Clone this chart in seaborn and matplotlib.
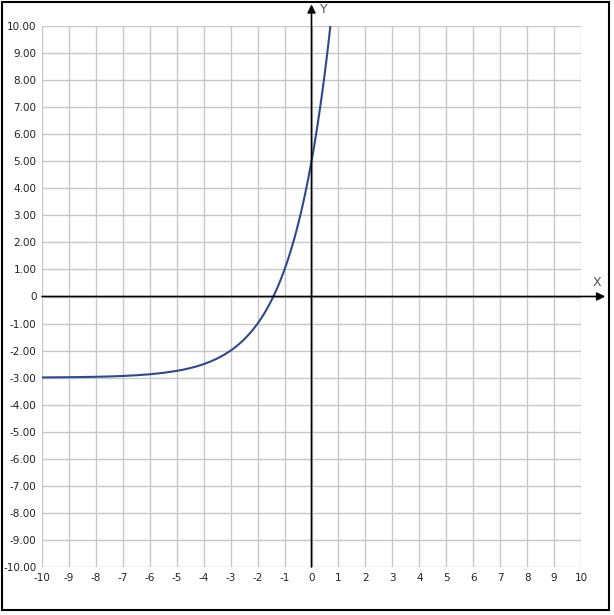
import numpy as np
import pandas as pd
import matplotlib
matplotlib.use("Agg")
import matplotlib.pyplot as plt
from matplotlib.patches import Rectangle
import seaborn as sns

# -------------------------------
# CURVE VALUES
# -------------------------------

X_VALUES = [-10, -9, -8, -7.5, -7, -6.5, -6, -5.5, -5, -4.75, -4.5, -4.25, -4,
            -3.75, -3.5, -3.25, -3, -2.875, -2.75, -2.625, -2.5, -2.375, -2.25,
            -2.125, -2, -1.875, -1.75, -1.625, -1.5, -1.375, -1.25, -1.125, -1,
            -0.875, -0.75, -0.625, -0.5, -0.375, -0.25, -0.125, 0, 0.05, 0.1,
            0.15, 0.2, 0.25, 0.3, 0.35, 0.4, 0.45, 0.5, 0.55, 0.6, 0.65, 0.7]
Y_VALUES = [-2.992, -2.984, -2.969, -2.956, -2.938, -2.912, -2.875, -2.823,
            -2.75, -2.703, -2.646, -2.580, -2.5, -2.405, -2.293, -2.159, -2.0,
            -1.909, -1.811, -1.703, -1.586, -1.458, -1.318, -1.166, -1.0,
            -0.819, -0.622, -0.406, -0.172, 0.084, 0.364, 0.668, 1.0, 1.362,
            1.757, 2.187, 2.657, 3.169, 3.727, 4.336, 5.0, 5.282, 5.574, 5.877,
            6.190, 6.514, 6.849, 7.197, 7.556, 7.928, 8.314, 8.713, 9.126,
            9.553, 9.996]

X_TICKS = list(range(-10, 11))
Y_TICKS = list(range(-10, 11))
X_TICK_LABELS = [str(v) for v in X_TICKS]
Y_TICK_LABELS = ["0" if v == 0 else f"{v:.2f}" for v in Y_TICKS]

df = pd.DataFrame({"x": X_VALUES, "y": Y_VALUES})

# -------------------------------
# FIGURE
# -------------------------------

sns.set_style("white")
plt.rcParams["font.family"] = ["DejaVu Sans"]
plt.rcParams["axes.unicode_minus"] = False

fig = plt.figure(figsize=(6.14, 6.15), dpi=100)
ax = fig.add_axes([42 / 614, 48 / 615, 539 / 614, 541 / 615])

sns.lineplot(data=df, x="x", y="y", ax=ax, color="#2e4a8c", linewidth=1.5)

ax.set_xlim(-10, 10)
ax.set_ylim(-10, 10)
ax.set_xticks(X_TICKS)
ax.set_xticklabels(X_TICK_LABELS)
ax.set_yticks(Y_TICKS)
ax.set_yticklabels(Y_TICK_LABELS)
ax.tick_params(length=0, labelsize=7.5, colors="#222222", pad=4)
ax.grid(True, color="#c8c8c8", linewidth=1)
ax.set_axisbelow(True)
ax.set_xlabel("")
ax.set_ylabel("")
for s in ax.spines.values():
    s.set_visible(False)

# Axis arrows
arrow = dict(arrowstyle="-|>", color="black", lw=1.2, mutation_scale=12,
             shrinkA=0, shrinkB=0)
ax.annotate("", xy=(10.9, 0), xytext=(-10, 0), arrowprops=arrow,
            annotation_clip=False)
ax.annotate("", xy=(0, 10.8), xytext=(0, -10), arrowprops=arrow,
            annotation_clip=False)
ax.text(10.6, 0.5, "X", fontsize=9, color="#555555", ha="center", va="center",
        clip_on=False)
ax.text(0.46, 10.6, "Y", fontsize=9, color="#555555", ha="center", va="center",
        clip_on=False)

# Outer frame
fig.patches.append(Rectangle((2 / 614, 5 / 615), 607 / 614, 608 / 615,
                             transform=fig.transFigure, fill=False,
                             edgecolor="black", linewidth=1.5))

fig.savefig("out.png", dpi=100)
